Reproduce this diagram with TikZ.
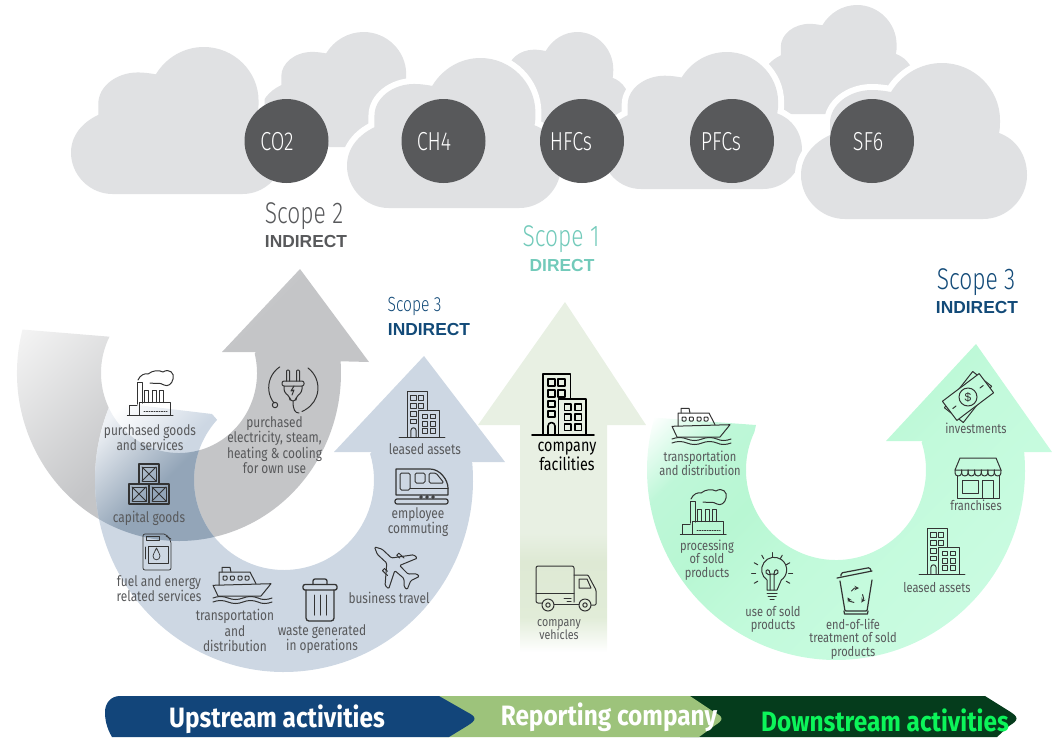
\documentclass[tikz,border=0pt]{standalone}
\usepackage{fontspec}
\setmainfont{Liberation Sans}
\newfontfamily\narf[FakeStretch=0.82]{Fira Sans}
\newfontfamily\narc[UprightFont=* Light,FakeStretch=0.76]{Fira Sans}
\newfontfamily\barf[UprightFont=* Bold,FakeStretch=0.87]{Fira Sans}
\newfontfamily\arb[UprightFont=* Bold]{Liberation Sans}
\definecolor{cloudc}{HTML}{E0E1E3}
\definecolor{circc}{HTML}{58595B}
\definecolor{txtg}{HTML}{58595B}
\definecolor{iconc}{HTML}{333333}
\definecolor{tealc}{HTML}{72CABA}
\definecolor{navyc}{HTML}{124A78}
\definecolor{barblue}{HTML}{12457A}
\definecolor{bargreen}{HTML}{9DC37B}
\definecolor{bardark}{HTML}{053C1C}
\definecolor{barlime}{HTML}{0CF55A}
\definecolor{gA}{RGB}{196,197,199}
\definecolor{gB}{RGB}{243,243,243}
\definecolor{bA}{RGB}{205,215,227}
\definecolor{oA}{RGB}{147,165,184}
\definecolor{oB}{RGB}{238,241,245}
\definecolor{mA}{RGB}{204,252,227}
\definecolor{mB}{RGB}{194,250,219}
\definecolor{mC}{RGB}{184,247,211}
\definecolor{mD}{RGB}{190,247,216}
\definecolor{cA}{RGB}{225,236,216}
\definecolor{cB}{RGB}{222,233,212}
\definecolor{cC}{RGB}{232,240,227}
\pgfdeclareverticalshading{grayshade}{100bp}{color(0bp)=(gA);color(50bp)=(gA);color(66bp)=(gB);color(100bp)=(gB)}
\pgfdeclareverticalshading{blueshade}{100bp}{color(0bp)=(bA);color(58bp)=(bA);color(64bp)=(white);color(100bp)=(white)}
\pgfdeclareverticalshading{overshade}{100bp}{color(0bp)=(oA);color(57bp)=(oA);color(64bp)=(oB);color(100bp)=(oB)}
\pgfdeclareverticalshading{greenshade}{100bp}{color(0bp)=(mA);color(30bp)=(mA);color(46bp)=(mB);color(53bp)=(mC);color(59bp)=(mD);color(64bp)=(white);color(100bp)=(white)}
\pgfdeclareverticalshading{centershade}{100bp}{color(0bp)=(white);color(25bp)=(white);color(30bp)=(cA);color(38bp)=(cB);color(42bp)=(cC);color(100bp)=(cC)}
\newcommand\graypath{({179+162*cos(195)},{373+168*sin(195)}) arc[start angle=195,end angle=-4,x radius=162pt,y radius=168pt] -- (369,362) -- (300,269) -- (222,352) -- (256,352) -- ({179+78*cos(-14)},{373+80*sin(-14)}) arc[start angle=-14,end angle=207,x radius=78pt,y radius=80pt] -- cycle}
\newcommand\bluepath{(112,402) -- (212,414) -- ({284+90*cos(222)},{480+90*sin(222)}) arc[start angle=222,end angle=-17,x radius=90pt,y radius=90pt] -- (372,452) -- (334,452) -- (424,356) -- (505,462) -- (473,462) -- ({284+189*cos(-5.4)},{480+192*sin(-5.4)}) arc[start angle=-5.4,end angle=204,x radius=189pt,y radius=192pt] -- cycle}
\newcommand\greenpath{({836+189*cos(196)},{470+190*sin(196)}) -- (756,425) -- ({836+90*cos(205)},{470+90*sin(205)}) arc[start angle=205,end angle=-18,x radius=90pt,y radius=90pt] -- (923,441) -- (886,441) -- (976,344) -- (1052,452) -- (1025,452) -- ({836+189*cos(-5.4)},{470+190*sin(-5.4)}) arc[start angle=-5.4,end angle=196,x radius=189pt,y radius=190pt] -- cycle}
\newcommand\centerpath{(565,302) -- (646,425) -- (607,425) -- (607,652) -- (520,652) -- (520,425) -- (478,425) -- cycle}
\newcommand\cloudshape[5]{\path[shift={(#2,#3)},xscale={(#4-#2)/226},yscale={(#5-#3)/156},#1] (44,156) .. controls (20,156) and (0,136) .. (0,112) .. controls (0,94) and (12,80) .. (29,72) .. controls (29,70) and (29,62) .. (29,60) .. controls (29,42) and (48,27) .. (71,27) .. controls (78,27) and (84,28) .. (90,29) .. controls (101,11) and (120,0) .. (141,0) .. controls (173,0) and (199,26) .. (199,57) .. controls (199,62) and (199,66) .. (198,70) .. controls (215,76) and (226,92) .. (226,112) .. controls (226,136) and (206,156) .. (182,156) -- cycle;}
\tikzset{
 every pic/.style={yscale=-1},
 cloudback/.style={fill=cloudc},
 cloudfront/.style={fill=cloudc,preaction={draw=white,line width=12pt}},
 gascirc/.style={circle,fill=circc,minimum size=84pt,inner sep=0pt},
 gastxt/.style={font=\narc\fontsize{26}{26}\selectfont,text=white,inner sep=0pt},
 scopetxt/.style={font=\narc\fontsize{30}{30}\selectfont,inner sep=0pt},
 scopesmall/.style={font=\narc\fontsize{20.5}{20.5}\selectfont,inner sep=0pt},
 kindtxt/.style={font=\arb\fontsize{17.4}{17.4}\selectfont,inner sep=0pt},
 lbl/.style={font=\narf\fontsize{14.5}{13.5}\selectfont,text=txtg,align=center,inner sep=0pt},
 lblw/.style={font=\narf\fontsize{14.5}{15.3}\selectfont,text=txtg,align=center,inner sep=0pt},
 lblg/.style={font=\narf\fontsize{13.5}{13.3}\selectfont,text=txtg,align=center,inner sep=0pt},
 bartxt/.style={font=\barf\fontsize{28}{28}\selectfont,inner sep=0pt},
 icn/.style={draw=iconc,line width=1pt,line join=round,line cap=round},
 pics/bldg/.style={code={
   \draw[icn] (-31,0)--(31,0);
   \draw[icn] (-20,0)--(-20,-61)--(7.5,-61)--(7.5,-36);
   \draw[icn] (-4.5,0)--(-4.5,-36)--(23,-36)--(23,0);
   \draw[icn] (-15,0)--(-15,-9) arc[start angle=180,end angle=360,x radius=3.5pt,y radius=3.5pt]--(-8,0);
   \foreach \ya in {-56,-45}{\draw[icn] (-15,\ya) rectangle (-8,\ya+7);\draw[icn] (-5,\ya) rectangle (2,\ya+7);}
   \foreach \ya in {-34,-24}{\draw[icn] (-15,\ya) rectangle (-8,\ya+6);}
   \foreach \ya in {-31,-21,-11}{\draw[icn] (1.3,\ya) rectangle (8,\ya+6.5);\draw[icn] (11.7,\ya) rectangle (18.3,\ya+6.5);}
 }},
 pics/factory/.style={code={
   \draw[icn] (-22.7,0)--(23,0);
   \draw[icn] (-13,-11)--(-13,-32.7)--(-7.7,-32.7)--(-7.7,-12);
   \foreach \xa in {-5.3,2.3,9.7}{\draw[icn] (\xa,-12.5)--(\xa,-24.3)--(\xa+4,-24.3)--(\xa+4,-12.5);}
   \draw[icn] (-11,0)--(-11,-12.3)--(20.3,-12.3)--(20.3,0);
   \draw[icn] (-20.7,0)--(-20.7,-10)--(-13,-10);
   \draw[icn] (-12,-35) .. controls (-10,-40) and (-5,-42) .. (-2,-41) .. controls (3,-45) and (9,-45) .. (13,-43) .. controls (19,-47) and (25,-42) .. (23,-36) .. controls (22,-31) and (18,-28) .. (14,-30) .. controls (10,-33) and (5,-31) .. (0,-32);
   \draw[icn,dash pattern=on 1pt off 1.5pt] (-6,-4)--(17,-4);
 }},
 pics/crates/.style={code={
   \foreach \xa/\ya in {-20/-20,0/-20,-10/-40}{
     \draw[icn,line width=1.4pt] (\xa,\ya) rectangle (\xa+20,\ya+20);
     \draw[icn,line width=.8pt] (\xa+3,\ya+3) rectangle (\xa+17,\ya+17);
     \draw[icn,line width=.8pt] (\xa+3,\ya+3)--(\xa+17,\ya+17) (\xa+17,\ya+3)--(\xa+3,\ya+17);}
 }},
 pics/jerry/.style={code={
   \draw[icn,line width=.7pt,rounded corners=2pt] (1,6)--(1,37)--(29,37)--(29,8)--(24,1)--(1,1)--cycle;
   \draw[icn,line width=.7pt] (4,3) rectangle (17,7);
   \draw[icn,line width=.7pt] (24,3)--(29,6);
   \draw[icn,line width=.7pt] (6,13) rectangle (26,30);
   \draw[icn,line width=.7pt] (3,14)--(3,26);
   \draw[icn,line width=.7pt] (14.5,15) .. controls (12,20) and (11,22) .. (11,23) .. controls (11,28) and (18,28) .. (18,23) .. controls (18,22) and (17,20) .. (14.5,15);
 }},
 pics/ship/.style={code={
   \draw[icn] (0,18.3)--(58,16.7)--(48,29)--(5,29)--cycle;
   \draw[icn] (6,18)--(6,5)--(37,5)--(43,16.7);
   \draw[icn] (9,5)--(9,.3)--(17,.3)--(18,5);
   \foreach \xa in {10,17.3,25,32}{\draw[icn,rounded corners=.8pt] (\xa,9) rectangle (\xa+4,13);}
   \foreach \ya in {31,35}{\draw[icn] (0,\ya) .. controls (5,\ya-2) and (10,\ya-2) .. (15,\ya) .. controls (20,\ya+2) and (25,\ya+2) .. (30,\ya) .. controls (35,\ya-2) and (40,\ya-2) .. (45,\ya) .. controls (49,\ya+2) and (54,\ya+2) .. (59,\ya);}
 }},
 pics/trash/.style={code={
   \draw[icn,line width=1.3pt,rounded corners=2pt] (0,5.5) rectangle (34,11);
   \draw[icn,line width=1.3pt,rounded corners=2pt] (10,5.5)--(10,0)--(24,0)--(24,5.5);
   \draw[icn,line width=1.3pt,rounded corners=3pt] (3,11)--(3,42)--(31,42)--(31,11);
   \foreach \xa in {11,17,23}{\draw[icn] (\xa,16)--(\xa,36);}
 }},
 pics/plane/.style={code={
   \draw[icn,rounded corners=1.2pt] (0,-28)--(3.5,-21)--(3.5,-8)--(21,6)--(21,11)--(3.5,3)--(3,15)--(9,21)--(9,25)--(0,21.5)--(-9,25)--(-9,21)--(-3,15)--(-3.5,3)--(-21,11)--(-21,6)--(-3.5,-8)--(-3.5,-21)--cycle;
   \draw[icn] (9,-2)--(9,-6)--(12,-6)--(12,1) (-9,-2)--(-9,-6)--(-12,-6)--(-12,1);
 }},
 pics/train/.style={code={
   \draw[icn,line width=1.2pt] (1,27)--(1,1)--(35,1) .. controls (45,1) and (53,12) .. (53,20)--(53,27)--cycle;
   \draw[icn,rounded corners=1.5pt] (5,5) rectangle (15,22);
   \draw[icn,rounded corners=1.5pt] (20,5) rectangle (30,15);
   \draw[icn,rounded corners=1.5pt] (34,5)--(41,5)--(49,15)--(34,15)--cycle;
   \draw[icn] (15,20)--(53,20);
   \draw[icn,line width=1.2pt,rounded corners=2pt] (0,31) rectangle (53,36);
   \foreach \xa in {26,32,38}{\draw[icn] (\xa,29) circle[radius=1.3pt];}
 }},
 pics/plug/.style={code={
   \draw[icn] (-19,15) arc[start angle=142,end angle=236,x radius=25pt,y radius=25pt];
   \draw[icn] (15,-20) arc[start angle=-53,end angle=60,x radius=25pt,y radius=25pt];
   \draw[icn] (12,22) -- (9,23.5);
   \draw[icn] (0,13) .. controls (0,22) and (2,25) .. (6,25);
   \draw[icn] (-18,17) circle[radius=2.7pt];
   \draw[icn,rounded corners=1pt] (-6.5,-7)--(-6.5,-18)--(-3.5,-18)--(-3.5,-7);
   \draw[icn,rounded corners=1pt] (3.5,-7)--(3.5,-18)--(6.5,-18)--(6.5,-7);
   \draw[icn,rounded corners=2pt] (-11,-7) rectangle (11,-2);
   \draw[icn,rounded corners=3pt] (-9,-2)--(-9,4)--(-3,9)--(-3,13)--(3,13)--(3,9)--(9,4)--(9,-2);
   \draw[icn] (1,-2)--(-2,3)--(1,2)--(-1,7);
 }},
 pics/truck/.style={code={
   \draw[icn,rounded corners=2pt] (6,37)--(0,37)--(0,0)--(38,0)--(38,36);
   \draw[icn] (0,27)--(38,27);
   \draw[icn,rounded corners=1pt] (38,9)--(52,9)--(60,24)--(60,39)--(55,39);
   \draw[icn] (43,13)--(51,13)--(55,22)--(43,22)--cycle;
   \draw[icn] (18,38)--(43,38);
   \draw[icn] (28,32)--(35,32) (31,35)--(35,35);
   \foreach \xa in {12,49}{\draw[icn] (\xa,39) circle[radius=6pt];\draw[icn] (\xa,39) circle[radius=2.2pt];}
 }},
 pics/money/.style={code={
   \draw[icn,rotate=-52] (-23,-12) rectangle (23,12);
   \draw[icn,fill=mB,rotate=-37] (-23,-12) rectangle (23,12);
   \draw[icn] (0,0) circle[radius=9pt];
   \draw[icn,rotate=-37] (-19,0)--(-15,0) (15,0)--(19,0);
 }},
 pics/store/.style={code={
   \draw[icn] (5,0)--(41,0)--(46,12)--(0,12)--cycle;
   \foreach \xa in {0,6.57,13.14,19.71,26.28,32.85,39.42}{\draw[icn] (\xa,12)--(\xa,15) arc[start angle=180,end angle=0,x radius=3.28pt,y radius=3pt]--(\xa+6.57,12);}
   \draw[icn] (2,18)--(2,40)--(44,40)--(44,18);
   \draw[icn] (7,22) rectangle (23,35);
   \draw[icn] (27,40)--(27,22)--(38,22)--(38,40);
 }},
 pics/bulb/.style={code={
   \draw[icn] (-5,11)--(-5,7) arc[start angle=125,end angle=415,x radius=12.5pt,y radius=12.5pt]--(5,17)--(-5,17)--(-5,10);
   \draw[icn] (-5,20)--(5,20) (-4,23)--(4,23) (-2,26)--(2,26);
   \draw[icn] (-2,17)--(-2,1) .. controls (-2,-5) and (-7,-4) .. (-6,0) .. controls (-5,2) and (-2,2) .. (0,1) .. controls (2,2) and (5,2) .. (6,0) .. controls (7,-4) and (2,-5) .. (2,1)--(2,17);
   \foreach \ang in {150,180,210,240,270,300,330,360,390}{\draw[icn] (\ang:16.5pt)--(\ang:20.5pt);}
 }},
 pics/rbin/.style={code={
   \draw[icn,line width=1.2pt,rounded corners=1pt] (4,14)--(9,44)--(31,44)--(36,13);
   \draw[icn,line width=1.2pt] (8,44)--(8.5,47)--(31.5,47)--(32,44);
   \draw[icn,line width=1.2pt] (1,11)--(36,4);
   \draw[icn,line width=1.2pt,rounded corners=1.5pt] (5,9)--(5,6)--(34,0.5)--(35,4);
   \foreach \ang in {0,120,240}{\draw[icn,-stealth,rotate around={\ang:(20,29)}] (15.5,24)--(18.5,21)--(23,21);}
 }},
}
\begin{document}
\begin{tikzpicture}[x=1pt,y=1pt,yscale=-1]
\useasboundingbox (0,0) rectangle (1052,737);
% clouds
\cloudshape{cloudback}{761}{5}{915}{114}
\cloudshape{cloudback}{490}{32}{630}{134}
\cloudshape{cloudback}{260}{32}{426}{147}
\cloudshape{cloudfront}{71}{47}{284}{194}
\cloudshape{cloudfront}{347}{58}{561}{208}
\cloudshape{cloudfront}{602}{52}{802}{189}
\cloudshape{cloudfront}{801}{63}{1027}{219}
% circles
\node[gascirc] (cco) at (286.5,141) {};
\node[gascirc] (cch) at (443.5,141) {};
\node[gascirc] (chf) at (582,141) {};
\node[gascirc] (cpf) at (732,141) {};
\node[gascirc] (csf) at (872,141) {};
\node[gastxt] (tco) at (277,142) {CO2};
\node[gastxt] (tch) at (434,142) {CH4};
\node[gastxt] (thf) at (571,142) {HFCs};
\node[gastxt] (tpf) at (721,142) {PFCs};
\node[gastxt] (tsf) at (868,142) {SF6};
% arrows
\begin{scope}\clip \graypath; \shade[shading=grayshade,shading angle=45] (-70,150) rectangle (430,650);\end{scope}
\begin{scope}\clip \centerpath; \shade[shading=centershade] (387,302) rectangle (737,652);\end{scope}
\begin{scope}\clip \bluepath; \shade[shading=blueshade,shading angle=45] (-16,180) rectangle (584,780);\end{scope}
\begin{scope}\clip \graypath; \clip \bluepath; \shade[shading=overshade,shading angle=45] (-16,180) rectangle (584,780);\end{scope}
\begin{scope}\clip \greenpath; \shade[shading=greenshade,shading angle=45] (536,170) rectangle (1136,770);\end{scope}
% scope labels
\node[scopetxt,text=txtg] (s2) at (304,216) {Scope 2};
\node[kindtxt,text=txtg] (s2k) at (306,241.5) {INDIRECT};
\node[scopetxt,text=tealc] (s1) at (561,239) {Scope 1};
\node[kindtxt,text=tealc] (s1k) at (562,265.5) {DIRECT};
\node[scopetxt,text=navyc] (s3r) at (976,282) {Scope 3};
\node[kindtxt,text=navyc] (s3rk) at (977,307.5) {INDIRECT};
\node[scopesmall,text=navyc] (s3l) at (414.5,306) {Scope 3};
\node[kindtxt,text=navyc] (s3lk) at (429,329.5) {INDIRECT};
% icons
\pic at (150,415) {factory};
\pic at (149,504) {crates};
\pic at (142,533) {jerry};
\pic at (213,567) {ship};
\pic at (303,579) {trash};
\pic[rotate=47] at (395,566) {plane};
\pic at (395,468) {train};
\pic[scale=.74] at (422,437) {bldg};
\pic at (293,388) {plug};
\begin{scope}[icn/.append style={draw=black,line width=1.6pt}]\pic at (563,435) {bldg};\end{scope}
\pic at (536,566) {truck};
\pic at (672,408) {ship};
\pic at (703,534) {factory};
\pic at (772,573) {bulb};
\pic at (836,567) {rbin};
\pic[scale=.74] at (942,574) {bldg};
\pic at (955,458) {store};
\pic at (968,397) {money};
\node[font=\fontsize{12}{12}\selectfont,text=iconc,inner sep=0pt] (dollar) at (968,397) {\$};
% labels
\node[lbl] (a1) at (150,437.5) {purchased goods\\and services};
\node[lbl] (a2) at (149,518) {capital goods};
\node[lbl] (a3) at (159,588.5) {fuel and energy\\related services};
\node[lblw] (a4) at (235,630.5) {transportation\\and\\distribution};
\node[lbl] (a5) at (322,639) {waste generated\\in operations};
\node[lbl] (a6) at (389,598) {business travel};
\node[lbl] (a7) at (418,522) {employee\\commuting};
\node[lbl] (a8) at (425,449) {leased assets};
\node[lblw] (a9) at (274.5,445) {purchased\\electricity, steam,\\heating \& cooling\\for own use};
\node[font=\narf\fontsize{17.5}{19}\selectfont,text=black,align=center,inner sep=0pt] (c1) at (567,456.5) {company\\facilities};
\node[font=\narf\fontsize{13}{13}\selectfont,text=txtg,align=center,inner sep=0pt] (c2) at (559,629.5) {company\\vehicles};
\node[lblg] (d1) at (700,463.5) {transportation\\and distribution};
\node[lblg] (d2) at (707,560) {processing\\of sold\\products};
\node[lblg] (d3) at (773,619.5) {use of sold\\products};
\node[lblg] (d4) at (853,639) {end-of-life\\treatment of sold\\products};
\node[lblg] (d5) at (937,588) {leased assets};
\node[lblg] (d6) at (976,505) {franchises};
\node[lblg] (d7) at (976,428) {investments};
% bar
\fill[bardark] (680,696)--(985,696)--(1009,711) .. controls (1019,717) and (1019,720) .. (1009,726)--(997,737)--(680,737)--cycle;
\fill[bargreen] (430,696)--(690,696)--(714,712) .. controls (724,717) and (724,720) .. (714,726)--(699,737)--(430,737)--cycle;
\fill[barblue] (120,696)--(439,696)--(467,712) .. controls (477,717) and (477,720) .. (467,726)--(449,737)--(112,737) .. controls (106,727) and (105,718) .. (105,712) .. controls (105,703) and (111,696) .. (120,696)--cycle;
\node[bartxt,text=white] (b1) at (277,719) {Upstream activities};
\node[bartxt,text=white] (b2) at (609,717) {Reporting company};
\node[bartxt,text=barlime] (b3) at (885,720) {Downstream activities};
\end{tikzpicture}
\end{document}
